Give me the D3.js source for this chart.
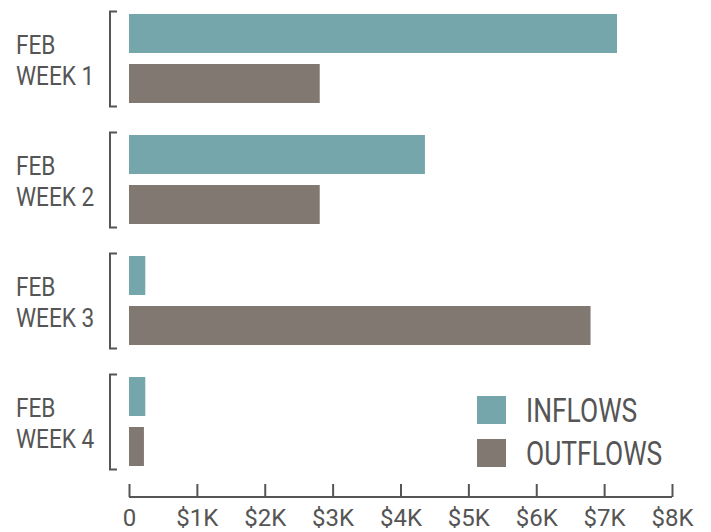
<!DOCTYPE html>
<html>
<head>
<meta charset="utf-8">
<script src="https://cdn.jsdelivr.net/npm/d3@7"></script>
<style>
  body { margin: 0; background: #fff; }
  text { font-family: Roboto, "Liberation Sans", sans-serif; fill: #555; }
</style>
</head>
<body>
<svg id="chart"></svg>
<script>
// data
const weeks = ['FEB WEEK 1', 'FEB WEEK 2', 'FEB WEEK 3', 'FEB WEEK 4'];
const seriesNames = ['INFLOWS', 'OUTFLOWS'];
const inflows = [7190, 4360, 240, 240];
const outflows = [2810, 2810, 6800, 220];
const tickValues = [0, 1000, 2000, 3000, 4000, 5000, 6000, 7000, 8000];

const colors = { INFLOWS: '#74a6ac', OUTFLOWS: '#817872' };
const inkColor = '#555';

const width = 711;
const height = 532;

const svg = d3.select('#chart')
  .attr('width', width)
  .attr('height', height);

// squeeze text horizontally, the original uses a condensed face
function squeeze(sel, f) {
  sel.each(function () {
    const w = this.getComputedTextLength();
    d3.select(this)
      .attr('textLength', w * f)
      .attr('lengthAdjust', 'spacingAndGlyphs');
  });
}

const data = weeks.map((w, i) => ({
  week: w,
  values: [
    { key: 'INFLOWS', value: inflows[i] },
    { key: 'OUTFLOWS', value: outflows[i] }
  ]
}));

//
// Scales
//
const xScale = d3.scaleLinear()
  .domain([0, 8000])
  .range([129, 672]);

const yScale = d3.scaleBand()
  .domain(weeks)
  .range([11, 470])
  .paddingInner(25 / 121)
  .paddingOuter(0);

const ySub = d3.scaleBand()
  .domain(seriesNames)
  .range([3, yScale.bandwidth() - 4])
  .paddingInner(0.22)
  .paddingOuter(0);

//
// Bars
//
const groups = svg.append('g').attr('class', 'groups')
  .selectAll('g')
  .data(data)
  .enter().append('g')
    .attr('transform', d => `translate(0,${yScale(d.week)})`);

groups.selectAll('rect')
  .data(d => d.values)
  .enter().append('rect')
    .attr('x', xScale(0))
    .attr('y', d => ySub(d.key))
    .attr('width', d => xScale(d.value) - xScale(0))
    .attr('height', ySub.bandwidth())
    .style('fill', d => colors[d.key]);

// brackets
const bx = 110;
groups.append('path')
  .attr('d', `M${bx + 7},0.5 H${bx} V${yScale.bandwidth() - 0.5} H${bx + 7}`)
  .style('fill', 'none')
  .style('stroke', inkColor)
  .style('stroke-width', 2);

// group labels
const labels = groups.append('text')
  .attr('x', 16)
  .attr('y', yScale.bandwidth() / 2)
  .style('font-size', '26px');

labels.append('tspan')
  .attr('x', 16)
  .attr('dy', -5)
  .text(d => d.week.split(' ')[0]);

labels.append('tspan')
  .attr('x', 16)
  .attr('dy', 31)
  .text(d => d.week.split(' ').slice(1).join(' '));

labels.selectAll('tspan').each(function () {
  const w = this.getComputedTextLength();
  d3.select(this).attr('textLength', w * 0.87).attr('lengthAdjust', 'spacingAndGlyphs');
});

//
// X axis
//
const xAxis = d3.axisBottom(xScale)
  .tickValues(tickValues)
  .tickSizeInner(-13)
  .tickSizeOuter(0)
  .tickFormat(d => d === 0 ? '0' : `$${d / 1000}K`);

const axisG = svg.append('g')
  .attr('class', 'x axis')
  .attr('transform', 'translate(0,497)')
  .call(xAxis);

axisG.select('.domain')
  .attr('d', `M${xScale(0)},0H${xScale(8000)}`)
  .style('stroke', inkColor)
  .style('stroke-width', 2);

axisG.selectAll('.tick line')
  .style('stroke', inkColor)
  .style('stroke-width', 2);

axisG.selectAll('.tick text')
  .attr('y', 29)
  .attr('dy', null)
  .style('font-family', 'Roboto, sans-serif')
  .style('font-size', '24px')
  .style('fill', inkColor);

//
// Legend
//
const legend = svg.append('g').attr('class', 'legend')
  .selectAll('g')
  .data(seriesNames)
  .enter().append('g')
    .attr('transform', (d, i) => `translate(477,${396 + i * 43})`);

legend.append('rect')
  .attr('width', 29)
  .attr('height', 28)
  .style('fill', d => colors[d]);

const legendText = legend.append('text')
  .attr('x', 49)
  .attr('y', 26)
  .style('font-size', '33px')
  .text(d => d);

squeeze(legendText, 0.8);
</script>
</body>
</html>
